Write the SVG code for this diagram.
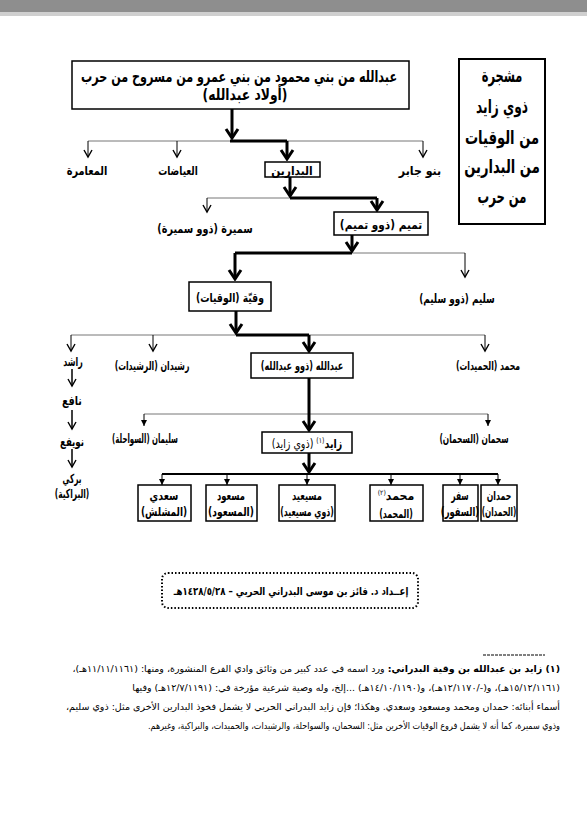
<svg xmlns="http://www.w3.org/2000/svg" width="587" height="826" viewBox="0 0 587 826">
<defs>
<style>
text{font-family:"DejaVu Sans","Noto Sans",sans-serif;fill:#000;direction:rtl;}
.lbl{font-size:12.5px;font-weight:bold;text-anchor:middle}
.ttl{font-size:19px;font-weight:bold;text-anchor:middle}
.box{fill:#fff;stroke:#000;stroke-width:1.5}
.thick{stroke:#000;stroke-width:3;fill:none}
.thin{stroke:#777;stroke-width:1;fill:none}
.mid{stroke:#000;stroke-width:1.8;fill:none}
.fn{font-size:9.5px;text-anchor:start}
</style>
<marker id="aT" viewBox="-12 -8 14 16" markerWidth="14" markerHeight="16" refX="0" refY="0" orient="auto" markerUnits="userSpaceOnUse"><path d="M-9,-6 L0,0 L-9,6" fill="none" stroke="#000" stroke-width="3"/></marker>
<marker id="aN" viewBox="-9 -6 11 12" markerWidth="11" markerHeight="12" refX="0" refY="0" orient="auto" markerUnits="userSpaceOnUse"><path d="M-7,-4 L0,0 L-7,4" fill="none" stroke="#000" stroke-width="1.4"/></marker>
<marker id="aS" viewBox="-7 -4 8 8" markerWidth="8" markerHeight="8" refX="0" refY="0" orient="auto" markerUnits="userSpaceOnUse"><path d="M-6,-3 L0,0 L-6,3 Z" fill="#000"/></marker>
</defs>
<rect x="0" y="0" width="587" height="826" fill="#fff"/>
<rect x="0" y="0" width="587" height="12" fill="#8e8e8e"/>
<rect x="0" y="12" width="587" height="4" fill="#cfcfcf"/>

<g id="connectors">
<path class="thin" d="M88,141 H423 M207,198 H377 M235,253 H465 M71,335 H485 M144,414 H488"/>
<path class="mid" d="M162,474 H498"/>
<path class="thick" d="M230,141 H287 M290,198 H377 M235,253 H352 M236,335 H309"/>
<g class="thick" marker-end="url(#aT)">
<path d="M232,109 V138"/><path d="M287,141 V159"/><path d="M290,177 V196"/><path d="M377,198 V210"/><path d="M352,235 V251"/><path d="M235,253 V279"/><path d="M236,311 V333"/><path d="M309,335 V351"/><path d="M309,378 V430"/><path d="M309,453 V472"/>
</g>
<g class="thin" marker-end="url(#aN)" style="stroke:#000">
<path d="M88,141 V157"/><path d="M177,141 V157"/><path d="M423,141 V157"/><path d="M207,198 V212"/><path d="M465,253 V277"/><path d="M71,335 V351"/><path d="M153,335 V351"/><path d="M485,335 V351"/>
<path d="M72,369 V386" style="stroke-width:1.5"/><path d="M72,410 V429" style="stroke-width:1.5"/><path d="M72,449 V467" style="stroke-width:1.5"/>
</g>
<g class="thin" marker-end="url(#aS)" style="stroke:#000">
<path d="M144,414 V426"/><path d="M488,414 V426"/>
<path d="M162,474 V485"/><path d="M227,474 V485"/><path d="M307,474 V485"/><path d="M391,474 V485"/><path d="M460,474 V485"/><path d="M498,474 V485"/>
</g>
</g>

<g id="root">
<rect class="box" x="72" y="61" width="337" height="48"/>
<text transform="translate(239,82) scale(0.70,1)" style="font-size:16px;font-weight:bold;text-anchor:middle">عبدالله من بني محمود من بني عمرو من مسروح من حرب</text>
<text transform="translate(245,100) scale(0.77,1)" style="font-size:16px;font-weight:bold;text-anchor:middle">(أولاد  عبدالله)</text>
</g>

<g id="title">
<rect x="459" y="59" width="86" height="165" fill="#fff" stroke="#000" stroke-width="2"/>
<text class="ttl" transform="translate(502,82) scale(0.6,1)">مشجرة</text>
<text class="ttl" transform="translate(502,113) scale(0.64,1)">ذوي زايد</text>
<text class="ttl" transform="translate(502,144) scale(0.69,1)">من الوقيات</text>
<text class="ttl" transform="translate(502,173) scale(0.69,1)">من البدارين</text>
<text class="ttl" transform="translate(502,203) scale(0.61,1)">من حرب</text>
</g>

<g id="maamira"><text class="lbl" transform="translate(87,174.5) scale(0.78,1)">المعامرة</text></g>
<g id="ayadat"><text class="lbl" transform="translate(178,174.5) scale(0.72,1)">العياضات</text></g>
<g id="banujaber"><text class="lbl" transform="translate(420,174.5) scale(0.88,1)">بنو جابر</text></g>
<g id="badarin"><rect class="box" x="265" y="162" width="55" height="15"/><text class="lbl" transform="translate(292,174.5) scale(0.85,1)">البدارين</text></g>

<g id="sumaira"><text class="lbl" transform="translate(205,232.5) scale(0.77,1)">سميرة (ذوو سميرة)</text></g>
<g id="tamim"><rect class="box" x="334" y="212" width="94" height="23"/><text class="lbl" transform="translate(381,228.5) scale(0.84,1)">تميم  (ذوو تميم)</text></g>

<g id="waqiya"><rect class="box" x="189" y="282" width="82" height="29"/><text class="lbl" transform="translate(230,301.5) scale(0.74,1)">وقيّة (الوقيات)</text></g>
<g id="sulaim"><text class="lbl" transform="translate(457,302.5) scale(0.71,1)">سليم (ذوو سليم)</text></g>

<g id="rashid"><text class="lbl" transform="translate(73,366) scale(0.63,1)">راشد</text></g>
<g id="rushaidan"><text class="lbl" transform="translate(152,369.5) scale(0.62,1)">رشيدان (الرشيدات)</text></g>
<g id="abdullah"><rect class="box" x="251" y="353" width="102" height="25"/><text class="lbl" transform="translate(302,369.5) scale(0.65,1)">عبدالله (ذوو عبدالله)</text></g>
<g id="muhammad1"><text class="lbl" transform="translate(488,369.5) scale(0.62,1)">محمد (الحميدات)</text></g>

<g id="nafi"><text class="lbl" transform="translate(72,404.5) scale(0.76,1)">نافع</text></g>
<g id="nuwaifi"><text class="lbl" transform="translate(72,445.5) scale(0.69,1)">نويفع</text></g>
<g id="barki"><text class="lbl" transform="translate(72,482.5) scale(0.58,1)">بركي</text><text class="lbl" transform="translate(72,497.5) scale(0.60,1)">(البراكية)</text></g>

<g id="sulaiman"><text class="lbl" transform="translate(145,442.5) scale(0.56,1)">سليمان (السواحلة)</text></g>
<g id="zayid"><rect class="box" x="262" y="432" width="90" height="21"/><text class="lbl" transform="translate(307,447.5) scale(0.76,1)"><tspan>زايد</tspan><tspan style="font-size:8px;font-weight:normal" baseline-shift="super">(١)</tspan><tspan style="font-weight:normal"> (ذوي زايد)</tspan></text></g>
<g id="suhman"><text class="lbl" transform="translate(474,442.5) scale(0.60,1)">سحمان (السحمان)</text></g>

<g id="saadi"><rect class="box" x="138" y="485" width="53" height="36"/><text class="lbl" transform="translate(164,499.5) scale(0.76,1)">سعدي</text><text class="lbl" transform="translate(164,515.5) scale(0.72,1)">(المشلش)</text></g>
<g id="masood"><rect class="box" x="206" y="485" width="51" height="36"/><text class="lbl" transform="translate(231,499.5) scale(0.67,1)">مسعود</text><text class="lbl" transform="translate(231,515.5) scale(0.73,1)">(المسعود)</text></g>
<g id="musaiid"><rect class="box" x="279" y="485" width="56" height="36"/><text class="lbl" transform="translate(307,499.5) scale(0.67,1)">مسيعيد</text><text class="lbl" transform="translate(307,515.5) scale(0.62,1)">(ذوي مسيعيد)</text></g>
<g id="muhammad2"><rect class="box" x="370" y="485" width="53" height="36"/><text class="lbl" transform="translate(396,499.5) scale(0.88,1)">محمد<tspan style="font-size:7px;font-weight:normal" baseline-shift="super">(٢)</tspan></text><text class="lbl" transform="translate(396,517.5) scale(0.63,1)">(المحمد)</text></g>
<g id="safar"><rect class="box" x="443" y="485" width="35" height="36"/><text class="lbl" transform="translate(460,499.5) scale(0.60,1)">سفر</text><text class="lbl" transform="translate(460,515.5) scale(0.67,1)">(السفور)</text></g>
<g id="hamdan"><rect class="box" x="481" y="485" width="36" height="36"/><text class="lbl" transform="translate(499,499.5) scale(0.62,1)">حمدان</text><text class="lbl" transform="translate(499,515.5) scale(0.58,1)">(الحمدان)</text></g>

<g id="credit">
<rect x="162" y="573" width="256" height="35" rx="6" fill="none" stroke="#000" stroke-width="2" stroke-dasharray="1.5 2"/>
<text transform="translate(291,595) scale(0.78,1)" style="font-size:11px;font-weight:bold;text-anchor:middle">إعــداد د. فائز بن موسى البدراني الحربي – ١٤٢٨/٥/٢٨هـ</text>
</g>

<g id="footnote">
<line x1="483" y1="655" x2="545" y2="655" stroke="#000" stroke-width="1" stroke-dasharray="3 1"/>
<text class="fn" x="560" y="672"><tspan font-weight="bold">(١)  زايد بن عبدالله بن وقية البدراني:</tspan> ورد اسمه في عدد كبير من وثائق وادي الفرع المنشورة، ومنها: (١١/١١/١١٦١هـ)،</text>
<text class="fn" x="560" y="691">(١٥/١٢/١١٦١هـ)، و(-/١٢/١١٧٠هـ)، و(١٤/١٠/١١٩٠هـ) ...إلخ، وله وصية شرعية مؤرخة في: (١٢/٧/١١٩١هـ) وفيها</text>
<text class="fn" x="560" y="710">أسماء أبنائه: حمدان ومحمد ومسعود وسعدي. وهكذا؛ فإن زايد البدراني الحربي لا يشمل فخوذ البدارين الأخرى مثل: ذوي سليم،</text>
<text class="fn" transform="translate(560,729) scale(0.85,1)">وذوي سميرة، كما أنه لا يشمل فروع الوقيات الأخرين مثل: السحمان، والسواحلة، والرشيدات، والحميدات، والبراكية، وغيرهم.</text>
</g>
</svg>
